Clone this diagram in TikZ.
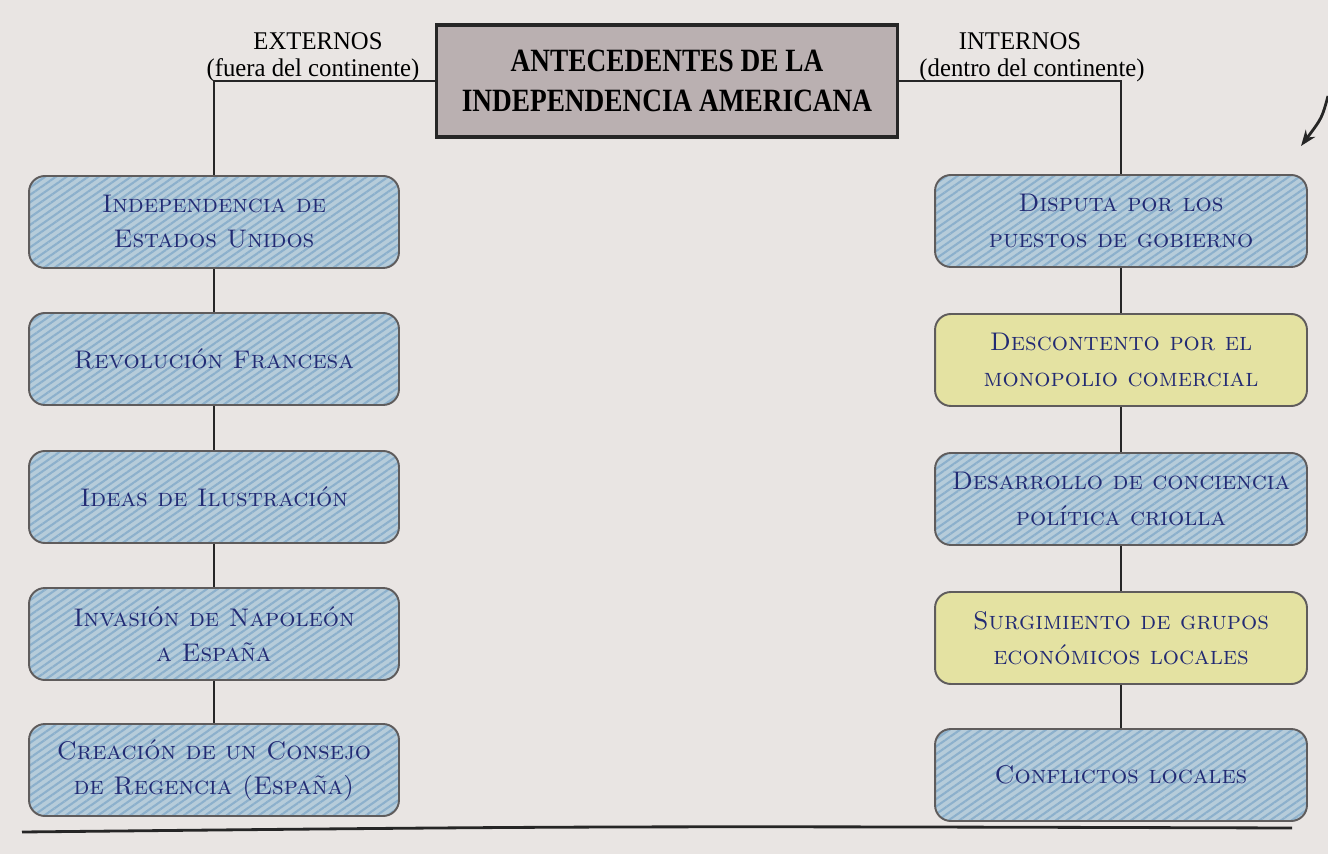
\documentclass[tikz,border=0pt]{standalone}
\usepackage{fontspec}
\usepackage{tikz}
\usetikzlibrary{arrows.meta,patterns.meta}
\newfontfamily\titlefont[FakeStretch=0.84]{Liberation Serif}
\newfontfamily\labelfont[FakeStretch=0.97]{Liberation Serif}
\definecolor{paper}{RGB}{233,229,227}
\definecolor{ink}{RGB}{34,42,115}
\definecolor{boxblue}{RGB}{182,204,218}
\definecolor{hatchblue}{RGB}{140,176,204}
\definecolor{boxyellow}{RGB}{228,226,162}
\definecolor{titlegray}{RGB}{186,176,177}
\definecolor{rimgray}{RGB}{95,92,92}

\tikzset{
  titlebox/.style={draw=black!85,line width=2.2pt,fill=titlegray,align=center,
    minimum width=9.22cm,minimum height=2.24cm,inner sep=2pt,
    font=\titlefont\fontsize{18.5}{23}\selectfont\bfseries},
  sidelabel/.style={align=center,font=\labelfont\fontsize{14.5}{16}\selectfont,inner sep=0pt},
  causebox/.style={draw=rimgray,line width=1.1pt,rounded corners=9pt,align=center,
    minimum height=1.84cm,text=ink,font=\fontsize{14.5}{20}\selectfont\scshape},
  bluebox/.style={causebox,preaction={fill=boxblue},
    pattern={Lines[angle=35,distance=3.5pt,line width=1.2pt]},pattern color=hatchblue},
  yellowbox/.style={causebox,fill=boxyellow},
  link/.style={draw=black!85,line width=1.2pt}
}

\begin{document}
\begin{tikzpicture}[x=0.02cm,y=-0.02cm]
  \fill[paper] (0,0) rectangle (1328,854);
  \useasboundingbox (0,0) rectangle (1328,854);

  \node[titlebox] (title) at (667,81) {ANTECEDENTES DE LA\\INDEPENDENCIA AMERICANA};

  \node[sidelabel,anchor=base] (ext)    at (318,50) {EXTERNOS};
  \node[sidelabel,anchor=base] (extsub) at (313,77) {(fuera del continente)};
  \node[sidelabel,anchor=base] (int)    at (1020,50) {INTERNOS};
  \node[sidelabel,anchor=base] (intsub) at (1032,77) {(dentro del continente)};

  % causas externas
  \begin{scope}[every node/.append style={minimum width=7.4cm}]
    \node[bluebox] (ext1) at (214,222) {Independencia de\\Estados Unidos};
    \node[bluebox] (ext2) at (214,359) {Revolución Francesa};
    \node[bluebox] (ext3) at (214,497) {Ideas de Ilustración};
    \node[bluebox] (ext4) at (214,634) {Invasión de Napoleón\\a España};
    \node[bluebox] (ext5) at (214,770) {Creación de un Consejo\\de Regencia (España)};
  \end{scope}

  % causas internas
  \begin{scope}[every node/.append style={minimum width=7.44cm}]
    \node[bluebox]   (int1) at (1121,221) {Disputa por los\\puestos de gobierno};
    \node[yellowbox] (int2) at (1121,360) {Descontento por el\\monopolio comercial};
    \node[bluebox]   (int3) at (1121,499) {Desarrollo de conciencia\\política criolla};
    \node[yellowbox] (int4) at (1121,638) {Surgimiento de grupos\\económicos locales};
    \node[bluebox]   (int5) at (1121,775) {Conflictos locales};
  \end{scope}

  \draw[link] (title.west) -| (ext1.north);
  \draw[link] (title.east) -| (int1.north);
  \path[link] (ext1) edge (ext2) (ext2) edge (ext3) (ext3) edge (ext4) (ext4) edge (ext5);
  \path[link] (int1) edge (int2) (int2) edge (int3) (int3) edge (int4) (int4) edge (int5);

  % linea inferior y flecha suelta
  \coordinate (baseL) at (22,832);
  \coordinate (baseR) at (1292,828);
  \draw[black!85,line width=1.6pt] (baseL) .. controls (600,826) .. (baseR);
  \coordinate (arrS) at (1328,96);
  \coordinate (arrE) at (1301,146);
  \draw[black!85,line width=1.6pt,-{Stealth[length=9pt]}] (arrS) .. controls (1322,118) .. (arrE);
\end{tikzpicture}
\end{document}
